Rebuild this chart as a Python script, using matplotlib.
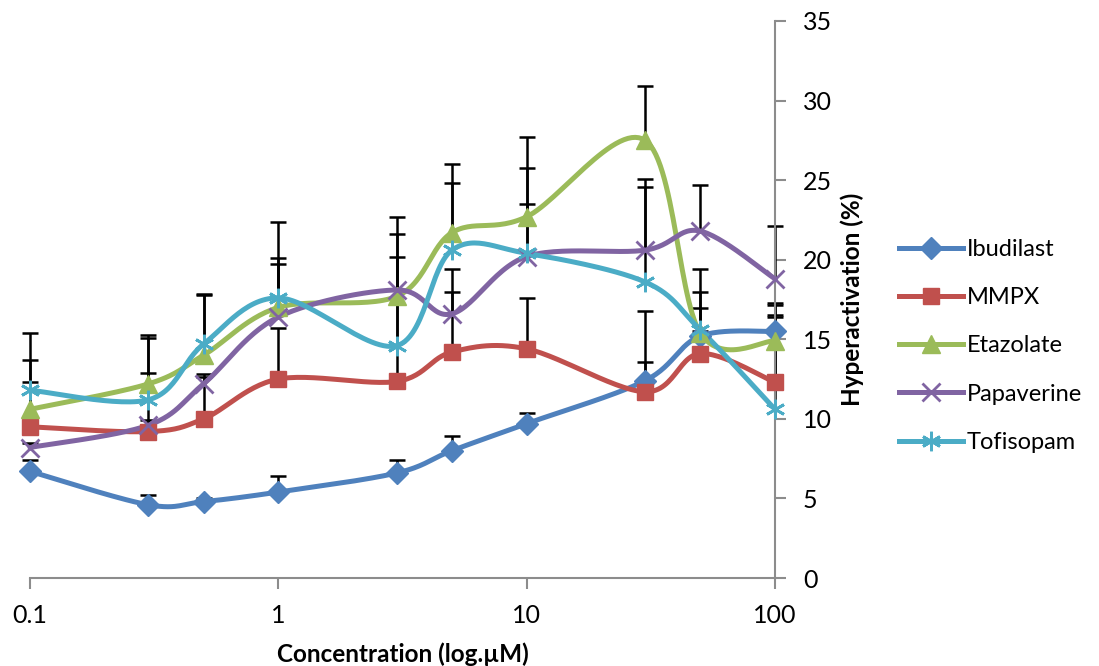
#!/usr/bin/env python3
import numpy as np
import matplotlib
matplotlib.use("Agg")
import matplotlib.pyplot as plt

# concentrations (uM)
conc = [0.1, 0.3, 0.5, 1, 3, 5, 10, 30, 50, 100]

ibudilast = [6.7, 4.6, 4.8, 5.4, 6.6, 8.0, 9.7, 12.4, 15.2, 15.5]
ibudilast_err = [0.7, 0.6, 0.2, 1.0, 0.8, 0.9, 0.65, 1.15, 0.3, 0.9]

mmpx = [9.5, 9.2, 10.0, 12.5, 12.35, 14.2, 14.4, 11.7, 14.1, 12.3]
mmpx_err = [2.8, 3.7, 2.8, 3.2, 4.85, 3.75, 3.2, 5.1, 2.85, 4.85]

etazolate = [10.6, 12.2, 14.0, 17.0, 17.7, 21.7, 22.7, 27.5, 15.4, 14.9]
etazolate_err = [3.1, 3.1, 3.85, 3.1, 5.0, 4.3, 5.0, 3.4, 2.55, 2.35]

papaverine = [8.2, 9.6, 12.2, 16.4, 18.1, 16.6, 20.2, 20.6, 21.8, 18.8]
papaverine_err = [0.3, 0.3, 0.4, 3.3, 3.5, 2.8, 3.3, 4.45, 2.9, 3.3]

tofisopam = [11.8, 11.2, 14.7, 17.6, 14.6, 20.6, 20.4, 18.6, 15.6, 10.6]
tofisopam_err = [3.6, 3.9, 3.1, 4.8, 5.6, 4.2, 5.35, 6.0, 3.8, 5.9]

x_ticks = [0.1, 1, 10, 100]
x_tick_labels = ["0.1", "1", "10", "100"]
y_ticks = [0, 5, 10, 15, 20, 25, 30, 35]


def smooth_curve(xs, ys, steps=30):
    """
    Excel-like smoothed line: Bezier segments with Catmull-Rom control points,
    built in (log10 x, y) space so it follows the log axis.
    """
    u = np.log10(np.asarray(xs, dtype=float))
    v = np.asarray(ys, dtype=float)
    pts = np.column_stack([u, v])
    n = len(pts)
    t = np.linspace(0, 1, steps)[:, None]
    out = []
    for i in range(n - 1):
        p0 = pts[max(i - 1, 0)]
        p1 = pts[i]
        p2 = pts[i + 1]
        p3 = pts[min(i + 2, n - 1)]
        c1 = p1 + (p2 - p0) / 6.0
        c2 = p2 - (p3 - p1) / 6.0
        seg = ((1 - t) ** 3) * p1 + 3 * ((1 - t) ** 2) * t * c1 + 3 * (1 - t) * t ** 2 * c2 + t ** 3 * p2
        out.append(seg if i == 0 else seg[1:])
    curve = np.vstack(out)
    return 10 ** curve[:, 0], curve[:, 1]


def main():
    plt.rcParams['font.family'] = ['Lato', 'DejaVu Sans']

    fig = plt.figure(figsize=(10.99, 6.66), dpi=100)
    ax = fig.add_axes([30 / 1099, 88 / 666, 745 / 1099, 557 / 666])

    series = [
        ("Ibudilast", ibudilast, ibudilast_err, "#4F81BD", "D", 11),
        ("MMPX", mmpx, mmpx_err, "#C0504D", "s", 12),
        ("Etazolate", etazolate, etazolate_err, "#9BBB59", "^", 13),
        ("Papaverine", papaverine, papaverine_err, "#8064A2", "x", 13),
        ("Tofisopam", tofisopam, tofisopam_err, "#4BACC6", (6, 2, 0), 14),
    ]

    # error bars (plus direction only, cap at top)
    for name, vals, err, color, marker, ms in series:
        tops = [v + e for v, e in zip(vals, err)]
        ax.vlines(conc, vals, tops, colors="black", linewidth=1.8, zorder=2, clip_on=False)
        ax.plot(conc, tops, ls="none", marker="_", ms=11, mew=1.8, color="black",
                zorder=2, clip_on=False)

    for name, vals, err, color, marker, ms in series:
        sx, sy = smooth_curve(conc, vals)
        ax.plot(sx, sy, color=color, linewidth=3.6, zorder=3, clip_on=False,
                solid_capstyle="round")
        mew = 2.0 if marker in ("x",) or isinstance(marker, tuple) else 1
        ax.plot(conc, vals, ls="none", marker=marker, ms=ms, color=color,
                mec=color, mew=mew, zorder=4, clip_on=False)
        # legend proxy
        ax.plot([], [], color=color, linewidth=3.6, marker=marker, ms=ms, mec=color,
                mew=mew, label=name)

    ax.set_xscale("log")
    ax.set_xlim(0.1, 100)
    ax.set_ylim(0, 35)
    ax.set_xticks(x_ticks)
    ax.set_xticklabels(x_tick_labels)
    ax.xaxis.set_minor_locator(matplotlib.ticker.NullLocator())
    ax.set_yticks(y_ticks)

    ax.yaxis.tick_right()
    ax.yaxis.set_label_position("right")
    for side in ("left", "top"):
        ax.spines[side].set_visible(False)
    for side in ("bottom", "right"):
        ax.spines[side].set_color("#8c8c8c")
        ax.spines[side].set_linewidth(1.5)
    ax.tick_params(axis="both", direction="out", length=8, width=1.5, color="#8c8c8c",
                   labelsize=18)
    ax.tick_params(axis="x", pad=11)
    ax.tick_params(axis="y", pad=12)

    ax.set_xlabel("Concentration (log.\u00b5M)", fontsize=17.5, fontweight="bold", labelpad=11)
    ax.set_ylabel("Hyperactivation (%)", fontsize=17.5, fontweight="bold", labelpad=6)

    fig.legend(loc="center left", bbox_to_anchor=(878 / 1099, 1 - 346 / 666), frameon=False,
               fontsize=17, handlelength=2.7, labelspacing=1.15, handletextpad=0.15)

    fig.savefig("out.png", dpi=100)


if __name__ == "__main__":
    main()
